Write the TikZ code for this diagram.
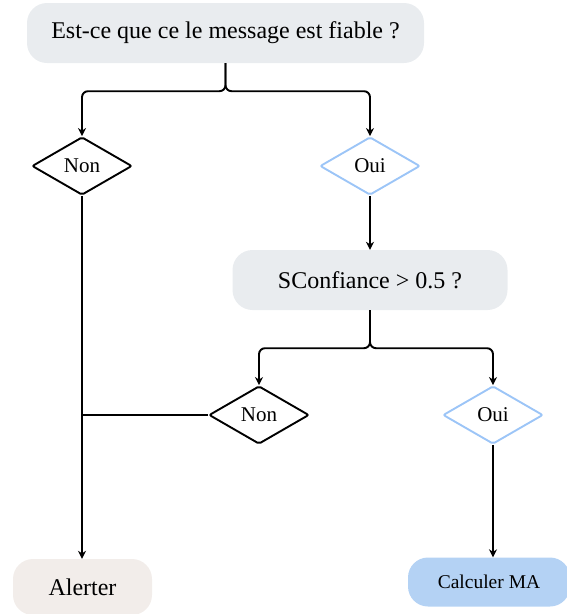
\documentclass[tikz,border=0pt]{standalone}
\usepackage{fontspec}
\setmainfont{Liberation Serif}
\usetikzlibrary{shapes.geometric,arrows.meta}
\definecolor{qgrey}{HTML}{E9ECEF}
\definecolor{ouiblue}{HTML}{9CC5F7}
\definecolor{calcblue}{HTML}{B4D2F4}
\definecolor{alertbg}{HTML}{F2EDEA}
\tikzset{
  pill/.style={rounded corners=20pt, inner sep=0pt, align=center},
  bigtext/.style={font=\fontsize{24}{28}\selectfont},
  choice/.style={diamond, draw, line width=1.9pt, rounded corners=2pt, inner sep=0pt,
    minimum width=100pt, minimum height=58pt, aspect=1.72,
    font=\fontsize{21}{24}\selectfont},
  link/.style={line width=1.9pt, rounded corners=6pt},
  arr/.style={link, -{Stealth[length=8pt,width=8pt]}}
}
\begin{document}
\begin{tikzpicture}[x=1pt,y=-1pt]
\useasboundingbox (0,0) rectangle (567,614);
% question boxes
\node[pill, fill=qgrey, minimum width=397pt, minimum height=60pt, bigtext]
  (q1) at (225.5,33) {Est-ce que ce le message est fiable ?};
\node[pill, fill=qgrey, minimum width=275pt, minimum height=60pt, bigtext]
  (q2) at (370,280) {SConfiance > 0.5 ?};
% decisions
\node[choice] (n1) at (82,166) {Non};
\node[choice, draw=ouiblue] (o1) at (370,166) {Oui};
\node[choice] (n2) at (259,415) {Non};
\node[choice, draw=ouiblue] (o2) at (493,415) {Oui};
% results
\node[pill, fill=alertbg, minimum width=139pt, minimum height=56pt, bigtext]
  (al) at (82.5,587) {Alerter};
\node[pill, fill=calcblue, minimum width=162pt, minimum height=49pt,
  font=\fontsize{19.5}{23}\selectfont] (ca) at (489,582) {Calculer MA};
% connectors
\draw[arr] (q1.south) -- ++(0,28) -| (n1.north);
\draw[arr] (q1.south) -- ++(0,28) -| (o1.north);
\draw[arr] (o1.south) -- (q2.north);
\draw[arr] (q2.south) -- ++(0,38) -| (n2.north);
\draw[arr] (q2.south) -- ++(0,38) -| (o2.north);
\draw[arr] (n1.south) -- (n1.south |- al.north);
\draw[link] (n2.west) -- (n2.west -| n1.south);
\draw[arr] (o2.south) -- (o2.south |- ca.north);
\end{tikzpicture}
\end{document}
